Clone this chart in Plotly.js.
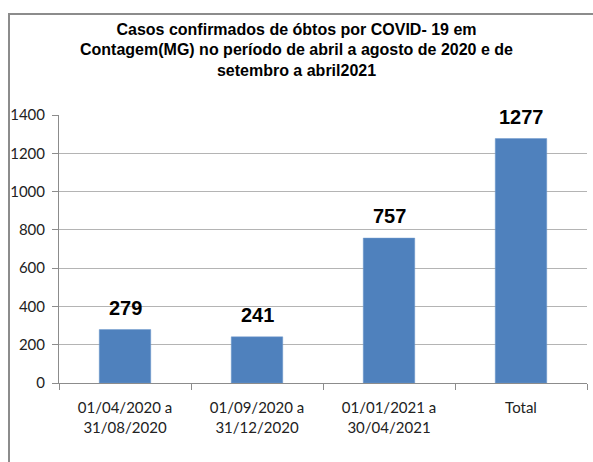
<!DOCTYPE html>
<html>
<head>
<meta charset="utf-8">
<script src="https://cdn.plot.ly/plotly-3.0.1.min.js"></script>
<style>
body{margin:0;padding:0;background:#fff;}
#wrap{position:relative;width:593px;height:462px;}
#chart{width:593px;height:462px;}
#frame{position:absolute;left:8px;top:13px;width:600px;height:460px;border-left:2px solid #8c8c8c;border-top:2px solid #8c8c8c;pointer-events:none;}
</style>
</head>
<body>
<div id="wrap"><div id="chart"></div><div id="frame"></div></div>
<script>
const categories = ["01/04/2020 a<br>31/08/2020", "01/09/2020 a<br>31/12/2020", "01/01/2021 a<br>30/04/2021", "Total"];
const values = [279, 241, 757, 1277];
const yTicks = [0, 200, 400, 600, 800, 1000, 1200, 1400];

const narrow = '"Liberation Sans Narrow", "Arial Narrow", "Liberation Sans", Arial, sans-serif';

const trace = {
  type: 'bar',
  x: categories,
  y: values,
  width: 0.39,
  marker: {color: '#4f81bd', line: {color: '#6f98cc', width: 0.5}},
  hoverinfo: 'none'
};

const annotations = categories.map((c, i) => ({
  x: c, y: values[i], xref: 'x', yref: 'y',
  text: String(values[i]), showarrow: false,
  yanchor: 'bottom', yshift: 9,
  font: {family: narrow, size: 20, color: '#000', weight: 'bold'}
}));

const layout = {
  width: 593, height: 462,
  margin: {l: 59, r: 6, t: 115, b: 79},
  paper_bgcolor: '#fff', plot_bgcolor: '#fff',
  showlegend: false,
  title: {
    text: '<b>Casos confirmados de óbtos por COVID- 19 em<br>Contagem(MG) no período de abril a agosto de 2020 e de<br>setembro a abril2021</b>',
    font: {family: narrow, size: 16, color: '#000'},
    x: 0.5, xanchor: 'center', y: 0.925, yanchor: 'top'
  },
  xaxis: {
    type: 'category',
    tickson: 'boundaries',
    ticks: 'outside', ticklen: 6, tickcolor: '#8c8c8c', tickwidth: 1,
    showline: true, linecolor: '#8c8c8c', linewidth: 1,
    showgrid: false,
    ticklabelstandoff: 11,
    tickfont: {family: 'Lato, "Open Sans", sans-serif', size: 15, color: '#222'},
    fixedrange: true
  },
  yaxis: {
    range: [0, 1400],
    tickvals: yTicks,
    ticktext: yTicks.map(String),
    ticks: 'outside', ticklen: 6, tickcolor: '#8c8c8c',
    showline: true, linecolor: '#8c8c8c', linewidth: 1,
    showgrid: true, gridcolor: '#b4b4b4', gridwidth: 1,
    zeroline: false,
    ticklabelstandoff: 4,
    tickfont: {family: 'Lato, "Open Sans", sans-serif', size: 15, color: '#222'},
    fixedrange: true
  },
  annotations: annotations
};

Plotly.newPlot('chart', [trace], layout, {displayModeBar: false, staticPlot: true});
</script>
</body>
</html>
